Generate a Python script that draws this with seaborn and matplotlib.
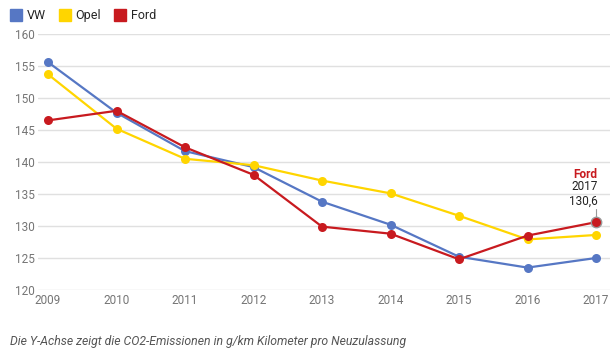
import seaborn as sns
import matplotlib.pyplot as plt
import pandas as pd
from matplotlib.lines import Line2D

years = [2009, 2010, 2011, 2012, 2013, 2014, 2015, 2016, 2017]
vw = [155.6, 147.7, 141.7, 139.2, 133.8, 130.2, 125.2, 123.5, 125.0]
opel = [153.7, 145.2, 140.5, 139.5, 137.1, 135.1, 131.6, 127.9, 128.6]
ford = [146.5, 148.0, 142.3, 138.0, 129.9, 128.8, 124.8, 128.5, 130.6]
brands = ['VW', 'Opel', 'Ford']
colors = ['#5677c4', '#ffd500', '#c81a1f']
y_ticks = [120, 125, 130, 135, 140, 145, 150, 155, 160]

df = pd.DataFrame({'Jahr': years * 3,
                   'CO2': vw + opel + ford,
                   'Marke': [b for b in brands for _ in years]})

sns.set_style('white')
plt.rcParams['font.family'] = ['Roboto', 'DejaVu Sans']

fig = plt.figure(figsize=(6.16, 3.56), dpi=100)
ax = fig.add_axes([38 / 616, 1 - 290 / 356, 572 / 616, 256 / 356])

sns.lineplot(data=df, x='Jahr', y='CO2', hue='Marke', hue_order=brands,
             palette=colors, marker='o', markersize=6.5, markeredgewidth=0,
             linewidth=1.6, legend=False, ax=ax)

# highlighted last Ford point
ax.plot(years[-1], ford[-1], 'o', color=colors[2], markersize=7.5,
        markeredgecolor='#999999', markeredgewidth=1.0, zorder=5)
ax.plot([years[-1], years[-1]], [ford[-1] + 0.6, ford[-1] + 2.0],
        color='#999999', lw=0.8, zorder=4)
ax.text(years[-1] + 0.02, ford[-1] + 2.2, f"{years[-1]}\n{ford[-1]:.1f}".replace('.', ','),
        ha='right', va='bottom', fontsize=8.5, color='#222222', linespacing=1.2)
ax.text(years[-1] + 0.02, ford[-1] + 6.4, 'Ford', ha='right', va='bottom',
        fontsize=8.5, color=colors[2], fontweight='bold')

ax.set_xlim(2009 - 10 / 68.5, 2017 + 14 / 68.5)
ax.set_ylim(120, 160)
ax.set_xticks(years)
ax.set_yticks(y_ticks)
ax.set_xlabel('')
ax.set_ylabel('')
ax.yaxis.grid(True, color='#e0e0e0', lw=1)
ax.xaxis.grid(False)
for s in ax.spines.values():
    s.set_visible(False)
ax.tick_params(axis='both', length=0, labelsize=8.5, colors='#757575')
ax.tick_params(axis='y', pad=2)
ax.tick_params(axis='x', pad=3)

handles = [Line2D([], [], marker='s', linestyle='', color=c, markersize=9) for c in colors]
fig.legend(handles, brands, loc='upper left', bbox_to_anchor=(2 / 616, 1.0), ncol=3,
           frameon=False, fontsize=9, handlelength=0.8, handletextpad=0.45,
           columnspacing=1.1, borderaxespad=0.35)

fig.text(10 / 616, 1 - 342 / 356, 'Die Y-Achse zeigt die CO2-Emissionen in g/km Kilometer pro Neuzulassung',
         fontsize=8.8, style='italic', color='#555555', va='center')

fig.savefig('out.png', dpi=100)
